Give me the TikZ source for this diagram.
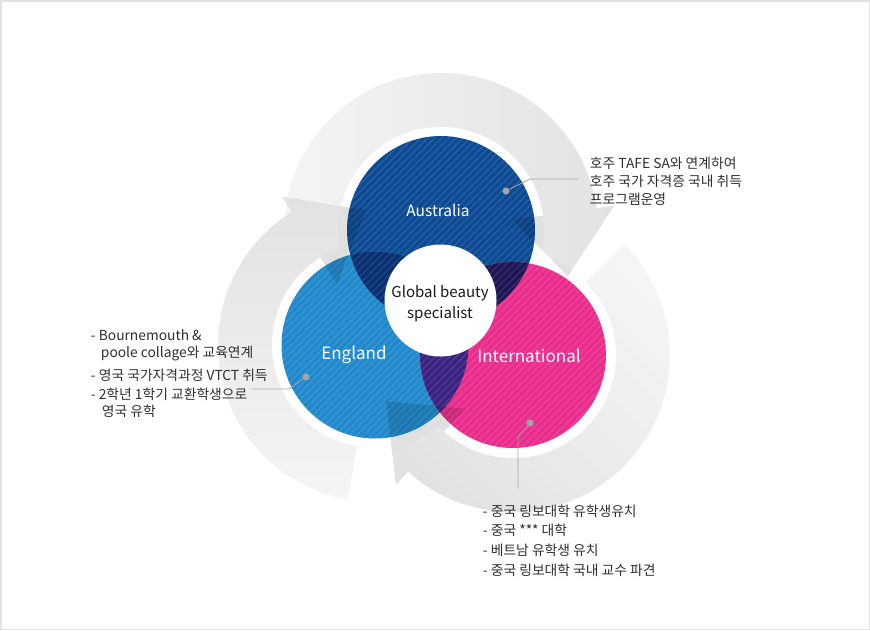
\documentclass[tikz,border=0pt]{standalone}
\usepackage{fontspec}
\setmainfont{Noto Sans CJK KR}
\usepackage{xcolor}
\usetikzlibrary{calc, patterns.meta}
\definecolor{AusBlue}{HTML}{0C4A94}
\definecolor{EngBlue}{HTML}{2089CB}
\definecolor{IntPink}{HTML}{EA2D8C}
\definecolor{AusEng}{HTML}{072F72}
\definecolor{AusInt}{HTML}{1E1654}
\definecolor{EngInt}{HTML}{3B2281}
\definecolor{TextGray}{HTML}{2E2E2E}
\definecolor{LeaderGray}{HTML}{A5A5A5}
\definecolor{FrameGray}{HTML}{E2E2E2}
\definecolor{BandLight}{HTML}{F5F5F5}
\definecolor{BandDark}{HTML}{E2E2E2}

\tikzset{
  stripes/.style={pattern={Lines[angle=45,distance=5pt,line width=1.5pt]}, pattern color=white},
  shadeaus/.style={left color=BandLight, right color=BandDark},
  shadeeng/.style={top color=BandDark, bottom color=BandLight},
  shadeintl/.style={top color=BandLight, bottom color=BandDark, shading angle=-45},
  country/.style={text=white, inner sep=0.75pt, font=\fontsize{17}{20}\selectfont},
  note/.style={text=TextGray, inner sep=0.75pt, align=left, font=\fontsize{13.8}{17}\selectfont},
  dot/.style={circle, fill=LeaderGray, inner sep=0pt, minimum size=7pt},
  leader/.style={draw=LeaderGray, line width=0.8pt},
}

\begin{document}
\begin{tikzpicture}[x=1pt,y=1pt,yscale=-1]
		\path[use as bounding box] (0,0) rectangle (870,630);
		% Thin frame round the page
		\draw[FrameGray, line width=1.5pt] (0.75,0.75) rectangle (869.25,629.25);

		% Centres of the three circles and of the core
		\coordinate (aus) at (441,230);
		\coordinate (eng) at (375,345);
		\coordinate (intl) at (513,355);
		\coordinate (core) at (440.5,300.5);

		% Grey cycle arrows, one round each circle (centre/start angle/end angle/shading)
		\foreach \c/\s/\e/\st in {aus/175/352/shadeaus, eng/100/238/shadeeng, intl/315/492/shadeintl}{
			\shade[\st] ($(\c)+(\s:157)$) arc[start angle=\s, end angle=\e, radius=157]
				-- ($(\c)+(\e:175)$) -- ($(\c)+({\e+28}:135)$) -- ($(\c)+(\e:72)$)
				-- ($(\c)+(\e:100)$) arc[start angle=\e, end angle=\s, radius=100] -- cycle;
		}

		% White rims
		\foreach \c in {aus, eng, intl}
			\fill[white] (\c) circle (103);

		% The three coloured circles
		\fill[AusBlue] (aus) circle (94);
		\fill[EngBlue] (eng) circle (93.5);
		\fill[IntPink] (intl) circle (93);

		% Overlaps
		\begin{scope}
			\clip (aus) circle (94);
			\fill[AusEng] (eng) circle (93.5);
			\fill[AusInt] (intl) circle (93);
		\end{scope}
		\begin{scope}
			\clip (eng) circle (93.5);
			\fill[EngInt] (intl) circle (93);
		\end{scope}

		% Fine diagonal stripes
		\begin{scope}[transparency group, opacity=0.1]
			\fill[stripes] (aus) circle (94) (eng) circle (93.5) (intl) circle (93);
		\end{scope}

		% Arrow heads seen through the circles
		\begin{scope}
			\clip (aus) circle (103) (eng) circle (103) (intl) circle (103);
			\foreach \c/\e in {aus/352, eng/238, intl/492}
				\fill[black, fill opacity=0.12] ($(\c)+(\e:175)$) -- ($(\c)+({\e+28}:135)$) -- ($(\c)+(\e:72)$) -- cycle;
		\end{scope}

		% Core
		\fill[white] (core) circle (56);

		% Labels
		\node[country, font=\fontsize{15.5}{18}\selectfont] (auslabel) at (438,210) {Australia};
		\node[country] (englabel) at (354,355) {England};
		\node[country] (intllabel) at (529,356) {International};
		\node[align=center, inner sep=0.75pt, text=black!90, font=\fontsize{15}{21}\selectfont] (corelabel) at (440,304) {Global beauty\\specialist};

		% Australia callout
		\node[dot] (ausdot) at (506,191) {};
		\coordinate (ausbend) at (530,179);
		\coordinate (ausend) at (578,179);
		\draw[leader] (ausdot) -- (ausbend) -- (ausend);
		\node[note, anchor=west, font=\fontsize{13.8}{18}\selectfont] (ausnote) at (589,181) {호주 TAFE SA와 연계하여\\호주 국가 자격증 국내 취득\\프로그램운영};

		% England callout
		\node[dot] (engdot) at (306,377) {};
		\coordinate (engbend) at (289,389);
		\coordinate (engend) at (252,389);
		\draw[leader] (engdot) -- (engbend) -- (engend);
		\node[note, anchor=west] (engnote1) at (90,345.5) {- Bournemouth \&\\\hspace*{10pt}poole collage와 교육연계};
		\node[note, anchor=west] (engnote2) at (90,375) {- 영국 국가자격과정 VTCT 취득};
		\node[note, anchor=west] (engnote3) at (90,402.5) {- 2학년 1학기 교환학생으로\\\hspace*{11pt}영국 유학};

		% International callout
		\node[dot] (intldot) at (530,423) {};
		\coordinate (intlbend) at (518,437);
		\coordinate (intlend) at (518,488);
		\draw[leader] (intldot) -- (intlbend) -- (intlend);
		\node[note, anchor=west, font=\fontsize{13.8}{19.7}\selectfont] (intlnote) at (482,540.5) {- 중국 링보대학 유학생유치\\- 중국 *** 대학\\- 베트남 유학생 유치\\- 중국 링보대학 국내 교수 파견};
\end{tikzpicture}
\end{document}
